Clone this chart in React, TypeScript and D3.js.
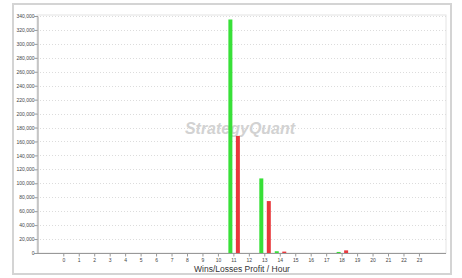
import React, { useRef, useEffect } from 'react';
import * as d3 from 'd3';

const hours = d3.range(0, 24);
const wins = [0, 0, 0, 0, 0, 0, 0, 0, 0, 0, 0, 335000, 0, 107000, 2500, 0, 0, 0, 1500, 0, 0, 0, 0, 0];
const losses = [0, 0, 0, 0, 0, 0, 0, 0, 0, 0, 0, 168000, 0, 74500, 2000, 0, 0, 0, 3800, 0, 0, 0, 0, 0];
const yTicks = d3.range(0, 340001, 20000);
const xLabel = 'Wins/Losses Profit / Hour';

const App = () => {
  const ref = useRef<SVGSVGElement>(null);

  useEffect(() => {
    const svg = d3.select(ref.current);
    svg.selectAll('*').remove();

    const width = 462;
    const height = 278;
    const plot = { left: 37, right: 446, top: 16, bottom: 253 };

    const x = d3.scaleLinear().domain([-1.7, 24.75]).range([plot.left, plot.right]);
    const y = d3.scaleLinear().domain([0, 340000]).range([plot.bottom, plot.top]);

    svg.append('rect').attr('width', width).attr('height', height).attr('fill', '#fff');

    // outer frame
    svg.append('rect')
      .attr('x', 13).attr('y', 4).attr('width', 438).attr('height', 270)
      .attr('fill', '#fff').attr('stroke', '#d4d4d4').attr('stroke-width', 2);

    // plot border
    svg.append('rect')
      .attr('x', plot.left).attr('y', plot.top - 1)
      .attr('width', plot.right - plot.left).attr('height', plot.bottom - plot.top + 1)
      .attr('fill', '#fff').attr('stroke', '#e4e4e4').attr('stroke-width', 1);

    // grid
    svg.append('g')
      .selectAll('line')
      .data(yTicks.filter(d => d > 0))
      .join('line')
      .attr('x1', plot.left).attr('x2', plot.right)
      .attr('y1', d => Math.round(y(d)) + 0.5).attr('y2', d => Math.round(y(d)) + 0.5)
      .attr('stroke', '#dcdcdc').attr('stroke-dasharray', '1,2');

    // watermark
    svg.append('text')
      .attr('x', 240).attr('y', 134)
      .attr('text-anchor', 'middle')
      .attr('font-family', 'Liberation Sans, Arial, sans-serif')
      .attr('font-size', 16).attr('font-weight', 'bold').attr('font-style', 'italic')
      .attr('fill', '#d2d2d2')
      .text('StrategyQuant');

    // Y axis
    const yAxis = svg.append('g')
      .attr('transform', `translate(${plot.left + 0.5},0)`)
      .call(d3.axisLeft(y).tickValues(yTicks).tickSize(3).tickFormat(d3.format(',')));
    yAxis.select('.domain').attr('stroke', '#999');
    yAxis.selectAll('line').attr('stroke', '#999');
    yAxis.selectAll('text')
      .attr('font-family', 'Liberation Sans, Arial, sans-serif')
      .attr('font-size', 5).attr('fill', '#444').attr('x', -3);

    // X axis
    const xAxis = svg.append('g')
      .attr('transform', `translate(0,${plot.bottom + 0.5})`)
      .call(d3.axisBottom(x).tickValues(hours).tickSize(3).tickSizeOuter(0).tickFormat(d3.format('d')));
    xAxis.select('.domain').attr('stroke', '#999').attr('d', `M${plot.left},0H${plot.right}`);
    xAxis.selectAll('line').attr('stroke', '#999');
    xAxis.selectAll('text')
      .attr('font-family', 'Liberation Sans, Arial, sans-serif')
      .attr('font-size', 5).attr('fill', '#444').attr('y', 5);

    // bars
    svg.append('g')
      .selectAll('rect')
      .data(hours.filter(h => wins[h] > 0))
      .join('rect')
      .attr('x', h => x(h) - 5)
      .attr('y', h => y(wins[h]))
      .attr('width', 4)
      .attr('height', h => Math.max(1, y(0) - y(wins[h])))
      .attr('fill', '#38e038');

    svg.append('g')
      .selectAll('rect')
      .data(hours.filter(h => losses[h] > 0))
      .join('rect')
      .attr('x', h => x(h) + 2.5)
      .attr('y', h => y(losses[h]))
      .attr('width', 4)
      .attr('height', h => Math.max(1, y(0) - y(losses[h])))
      .attr('fill', '#e8383c');

    svg.append('text')
      .attr('x', 242).attr('y', 272)
      .attr('text-anchor', 'middle')
      .attr('font-family', 'Liberation Sans, Arial, sans-serif')
      .attr('font-size', 8.5).attr('fill', '#333')
      .text(xLabel);
  }, []);

  return <svg ref={ref} width={462} height={278} style={{ position: 'absolute', left: 0, top: 0 }}></svg>;
};

export default App;
